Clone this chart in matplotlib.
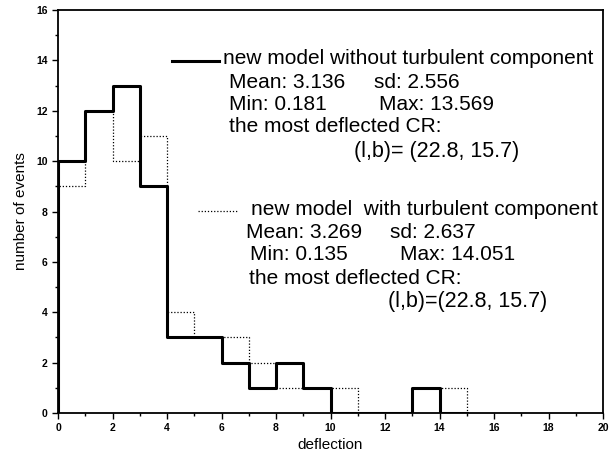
import numpy as np
import matplotlib.pyplot as plt
from matplotlib.ticker import MultipleLocator

plt.rcParams['font.family'] = ['Liberation Sans', 'DejaVu Sans']

bin_edges = list(range(0, 16))
counts_no_turb = [10, 12, 13, 9, 3, 3, 2, 1, 2, 1, 0, 0, 0, 1, 0]
counts_turb = [9, 12, 10, 11, 4, 3, 3, 2, 1, 1, 1, 0, 0, 1, 1]


def step_xy(edges, counts):
    x = np.repeat(edges, 2)
    y = np.concatenate([[0], np.repeat(counts, 2), [0]])
    return x, y


fig = plt.figure(figsize=(6.09, 4.57), dpi=100)
ax = fig.add_axes([58 / 609, 1 - 413 / 457, 545 / 609, 403 / 457])

xt, yt = step_xy(bin_edges, counts_turb)
ax.plot(xt, yt, color='black', lw=0.9, ls=(0, (1, 1.5)))
xs, ys = step_xy(bin_edges, counts_no_turb)
ax.plot(xs, ys, color='black', lw=2.2)

ax.set_xlim(0, 20)
ax.set_ylim(0, 16)
ax.xaxis.set_major_locator(MultipleLocator(2))
ax.xaxis.set_minor_locator(MultipleLocator(1))
ax.yaxis.set_major_locator(MultipleLocator(2))
ax.yaxis.set_minor_locator(MultipleLocator(1))
ax.tick_params(which='both', direction='out', width=1, labelsize=7.5)
ax.tick_params(which='major', length=4)
ax.tick_params(which='minor', length=2)
for lab in ax.get_xticklabels() + ax.get_yticklabels():
    lab.set_fontweight('bold')
for sp in ax.spines.values():
    sp.set_linewidth(1.3)
ax.set_xlabel('deflection', fontsize=11, labelpad=3)
ax.set_ylabel('number of events', fontsize=11, labelpad=6)


def ftext(x, y, s, fs=15):
    fig.text(x / 609, 1 - y / 457, s, fontsize=fs, va='center', ha='left')


# legend lines
fig.add_artist(plt.Line2D([172 / 609, 219 / 609], [1 - 61 / 457, 1 - 61 / 457], color='black', lw=2.2))
fig.add_artist(plt.Line2D([198 / 609, 238 / 609], [1 - 211 / 457, 1 - 211 / 457], color='black', lw=0.9, ls=(0, (1, 1.5))))

ftext(223, 59, 'new model without turbulent component')
ftext(229, 82, 'Mean: 3.136')
ftext(374, 82, 'sd: 2.556')
ftext(229, 104, 'Min: 0.181')
ftext(379, 104, 'Max: 13.569')
ftext(229, 127, 'the most deflected CR:')
ftext(354, 152, '(l,b)= (22.8, 15.7)', fs=15.5)

ftext(251, 210, 'new model  with turbulent component')
ftext(246, 233, 'Mean: 3.269')
ftext(390, 233, 'sd: 2.637')
ftext(250, 255, 'Min: 0.135')
ftext(400, 255, 'Max: 14.051')
ftext(249, 278, 'the most deflected CR:')
ftext(388, 302, '(l,b)=(22.8, 15.7)', fs=15.5)

fig.savefig('out.png', dpi=100)
